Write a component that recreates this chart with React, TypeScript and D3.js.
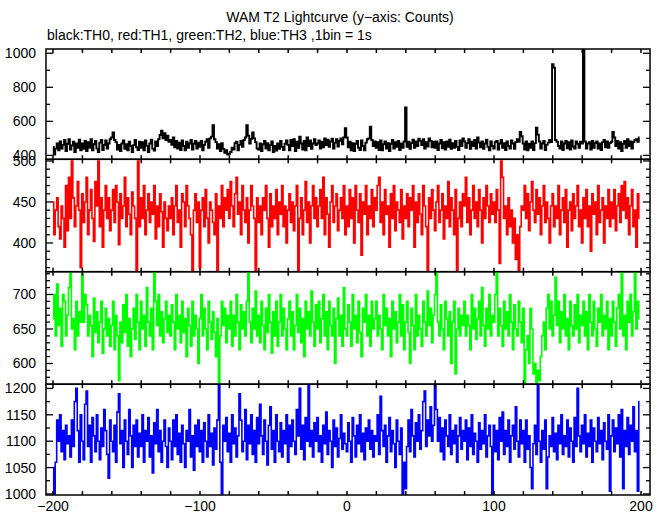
import React from "react";
import * as d3 from "d3";

const W = 669;
const H = 515;
const T_START = -200;

const th0: number[] = [
  450,405,440,470,430,482,440,462,490,425,468,495,435,458,480,420,470,445,492,430,
  470,438,485,425,478,445,495,430,465,485,440,420,475,490,432,462,488,440,470,495,
  505,535,490,478,435,462,425,470,488,438,465,430,480,455,420,460,490,448,432,480,
  445,478,430,488,455,420,470,492,440,428,482,455,495,520,545,500,530,490,515,480,
  490,462,505,448,485,440,475,432,488,455,430,480,445,470,490,435,468,485,440,475,
  450,485,430,462,480,495,445,500,510,578,495,478,440,465,425,472,438,415,430,405,
  410,420,445,435,472,480,430,462,485,450,490,505,578,515,470,498,535,500,478,440,
  435,470,425,465,485,440,472,430,460,482,420,455,428,470,438,485,450,432,468,488,
  462,430,490,455,495,425,480,445,510,470,435,485,430,505,455,488,438,470,495,460,
  470,488,440,480,448,500,460,492,450,482,498,440,475,495,452,485,500,465,505,560,
  505,448,480,430,472,425,468,485,445,432,488,455,430,475,495,500,568,490,455,482,
  445,478,432,488,430,465,482,440,472,425,468,490,440,478,450,485,432,470,445,482,
  682,450,480,438,472,492,445,482,455,498,485,460,495,440,478,452,500,485,448,480,
  445,482,432,470,490,442,478,435,482,450,492,438,472,445,485,450,432,488,455,500,
  482,445,472,495,438,480,455,490,440,505,475,448,482,438,470,492,450,430,482,455,
  440,478,485,435,470,490,445,472,432,482,455,440,488,470,438,478,495,480,538,512,
  470,435,482,430,468,445,482,432,472,562,522,482,440,470,485,432,462,475,490,478,
  935,915,490,480,455,440,482,432,470,485,442,478,435,488,452,440,482,468,445,480,
  470,1200,482,440,470,478,435,485,445,472,482,440,470,432,478,490,448,482,445,472,
  480,538,505,455,485,440,478,425,468,485,445,495,455,482,440,478,490,495,480,505,
];

const th1: number[] = [
  450,410,440,455,420,405,445,430,395,470,415,480,430,500,455,420,445,475,440,370,
  460,425,450,480,410,440,465,430,402,475,445,500,420,455,395,440,470,430,455,415,
  440,465,425,470,450,398,460,430,445,480,420,455,435,410,462,445,430,365,500,420,
  455,430,470,410,440,460,425,450,435,470,405,445,420,460,438,395,450,430,415,445,
  430,455,410,445,470,425,440,395,460,450,420,470,445,430,410,365,440,460,425,450,
  370,440,455,420,465,430,400,450,440,425,410,460,365,445,430,470,420,455,440,465,
  430,475,445,420,460,480,435,450,410,470,440,425,455,400,440,470,445,430,365,455,
  425,445,410,455,440,470,430,395,460,420,445,430,465,410,450,435,470,420,445,400,
  440,460,425,450,415,445,470,365,430,455,410,440,475,425,450,400,445,470,430,455,
  420,445,465,430,480,410,455,435,395,450,470,425,445,460,415,440,455,430,470,410,
  445,420,465,430,455,400,470,440,425,460,385,450,435,470,410,445,430,465,420,455,
  440,470,480,425,450,410,465,435,445,395,460,430,470,415,450,440,425,465,405,445,
  430,460,420,455,440,470,395,450,425,460,435,410,470,445,420,365,455,430,465,440,
  415,450,470,425,440,460,405,445,430,475,420,455,440,410,465,365,430,450,420,460,
  445,480,425,455,410,440,470,430,450,420,465,440,400,455,430,470,445,425,460,435,
  450,425,465,440,375,500,480,430,445,410,455,420,440,400,430,380,410,362,420,445,
  440,470,430,460,415,450,475,440,425,465,435,455,410,445,470,425,450,430,400,445,
  460,420,445,430,470,410,440,455,425,465,395,440,450,415,460,430,445,470,420,440,
  400,455,430,465,420,445,390,460,435,450,410,470,425,440,455,400,445,430,465,420,
  450,430,465,415,445,460,425,470,440,475,430,455,410,445,465,420,440,395,460,430,
];

const th2: number[] = [
  665,700,640,715,655,680,625,700,690,640,670,710,730,650,665,620,690,640,675,660,
  730,660,700,685,640,670,655,610,695,645,675,630,660,690,615,650,680,640,665,625,
  655,690,620,670,640,575,660,630,685,645,700,625,665,610,650,680,635,700,660,620,
  690,650,670,625,710,660,640,680,620,733,690,655,700,640,675,630,665,690,645,670,
  640,685,660,620,700,650,670,630,690,645,665,610,680,655,625,690,640,670,650,600,
  665,700,640,680,650,620,690,660,635,675,645,610,665,570,640,690,655,680,630,670,
  650,690,625,670,640,700,660,620,685,650,675,640,690,733,660,630,680,650,705,640,
  670,630,690,655,620,680,645,700,660,615,675,640,690,625,660,700,640,680,650,620,
  665,690,640,675,620,655,700,645,680,630,665,610,690,650,675,640,705,660,625,685,
  650,690,630,665,700,640,675,620,690,655,640,680,600,665,695,640,670,625,710,650,
  640,685,660,625,700,650,670,630,690,645,610,680,660,700,640,670,625,690,650,665,
  690,640,670,650,620,700,655,680,640,665,610,690,650,675,630,660,700,640,685,620,
  660,690,645,600,680,655,620,700,640,670,650,625,690,660,640,705,655,680,630,670,
  700,733,660,640,685,650,620,690,665,640,675,600,660,690,585,650,680,640,670,655,
  690,640,670,655,620,700,650,680,635,665,690,640,710,655,625,680,650,700,640,670,
  660,700,733,640,680,655,625,690,650,675,640,700,660,620,685,650,640,690,660,630,
  680,570,620,640,600,680,650,585,600,570,590,575,610,640,660,620,680,700,650,690,
  640,670,725,655,690,630,675,650,700,640,665,620,690,655,640,685,650,700,630,670,
  655,690,640,675,620,700,660,640,690,650,625,680,660,700,640,670,650,690,620,665,
  640,690,660,625,680,700,650,733,640,670,620,690,660,700,640,675,733,650,690,665,
];

const th3: number[] = [
  1050,1000,1060,1140,1100,1150,1080,1120,1065,1130,1095,1110,1070,1140,1090,1175,1200,1120,1060,1150,
  1100,1065,1170,1195,1090,1130,1060,1145,1110,1080,1150,1100,1065,1125,1090,1160,1120,1075,1030,1140,
  1100,1080,1130,1060,1155,1190,1095,1120,1050,1140,1100,1075,1160,1110,1050,1130,1090,1140,1070,1115,
  1090,1150,1060,1120,1100,1145,1070,1110,1040,1135,1095,1160,1080,1120,1060,1100,1140,1090,1050,1125,
  1100,1065,1140,1090,1150,1075,1115,1060,1130,1095,1050,1120,1100,1160,1070,1110,1045,1130,1090,1140,
  1080,1120,1060,1135,1100,1070,1150,1090,1115,1055,1125,1085,1140,1207,1060,1000,1130,1100,1145,1080,
  1115,1060,1150,1095,1125,1070,1110,1190,1140,1080,1100,1160,1065,1130,1095,1150,1075,1120,1060,1145,
  1095,1170,1110,1075,1140,1100,1055,1130,1165,1085,1120,1060,1150,1100,1080,1135,1070,1120,1095,1150,
  1060,1130,1090,1140,1100,1075,1160,1110,1200,1085,1130,1065,1145,1100,1207,1090,1120,1070,1135,1100,
  1145,1080,1110,1060,1130,1095,1155,1075,1120,1100,1050,1140,1090,1125,1070,1105,1150,1085,1115,1095,
  1080,1135,1100,1060,1145,1110,1070,1130,1095,1150,1080,1115,1065,1125,1100,1140,1085,1120,1070,1110,
  1100,1150,1075,1185,1120,1090,1130,1060,1110,1145,1080,1120,1095,1050,1140,1100,1075,1125,1000,1060,
  1010,1090,1140,1080,1160,1110,1070,1135,1100,1150,1085,1120,1175,1195,1090,1140,1110,1165,1100,1130,
  1207,1160,1100,1145,1080,1125,1065,1140,1110,1090,1150,1075,1120,1095,1130,1060,1110,1145,1085,1120,
  1100,1140,1065,1125,1090,1150,1075,1115,1100,1060,1135,1085,1120,1095,1150,1070,1110,1130,1090,998,
  1130,1080,1120,1065,1145,1100,1155,1075,1120,1090,1140,1060,1110,1130,1085,1165,1100,1070,1140,1095,
  1120,1060,1140,1085,1110,1050,1010,1095,1130,1075,1207,1100,1060,1120,1085,1140,1010,1070,1110,1090,
  1145,1080,1115,1065,1130,1095,1150,1075,1110,1090,1140,1070,1125,1100,1060,1145,1090,1200,1110,1080,
  1130,1095,1150,1070,1115,1090,1140,1060,1125,1100,1080,1145,1095,1120,1065,1135,1100,1085,1150,1005,
  1110,1140,1080,1125,1095,1150,1070,1160,1010,1120,1090,1145,1075,1130,1100,1165,1080,1120,1005,1175,
];

const xTickLabels = [-200, -100, 0, 100, 200];
const th0Ticks = [1000, 800, 600, 400];
const th1Ticks = [500, 450, 400];
const th2Ticks = [700, 650, 600];
const th3Ticks = [1200, 1150, 1100, 1050, 1000];

const TITLE = "WAM T2 Lightcurve (y\u2212axis: Counts)";
const SUBTITLE = "black:TH0, red:TH1, green:TH2, blue:TH3 ,1bin = 1s";

const FONT = "'Liberation Sans', Arial, Helvetica, sans-serif";

type Panel = {
  values: number[];
  color: string;
  width: number;
  top: number;
  bottom: number;
  domain: [number, number];
  ticks: number[];
  minorStep: number;
};

const panels: Panel[] = [
  { values: th0, color: "#000000", width: 1.9, top: 49, bottom: 159.3, domain: [377, 1025], ticks: th0Ticks, minorStep: 100 },
  { values: th1, color: "#ff0000", width: 1.6, top: 159.3, bottom: 271.7, domain: [365, 502], ticks: th1Ticks, minorStep: 10 },
  { values: th2, color: "#00ff00", width: 1.6, top: 271.7, bottom: 384.2, domain: [570, 733], ticks: th2Ticks, minorStep: 10 },
  { values: th3, color: "#0000ff", width: 1.6, top: 384.2, bottom: 495, domain: [998, 1208], ticks: th3Ticks, minorStep: 25 },
];

const LEFT = 46;
const RIGHT = 650;

export default function App() {
  const x = d3.scaleLinear().domain([-200, 200]).range([53, 641]);
  const xTicks = d3.range(-200, 201, 20);
  const fmt = (v: number) => (v < 0 ? "\u2212" + Math.abs(v) : String(v));

  return (
    <svg
      width={W}
      height={H}
      viewBox={`0 0 ${W} ${H}`}
      style={{ position: "absolute", left: 0, top: 0, background: "#fff" }}
    >
      <rect x={0} y={0} width={W} height={H} fill="#fff" />
      <text x={340} y={22} textAnchor="middle" fontFamily={FONT} fontSize={14} fill="#000">
        {TITLE}
      </text>
      <text x={47} y={40} fontFamily={FONT} fontSize={14} fill="#000">
        {SUBTITLE}
      </text>
      <defs>
        {panels.map((p, i) => (
          <clipPath id={`clip${i}`} key={i}>
            <rect x={LEFT} y={p.top} width={RIGHT - LEFT} height={p.bottom - p.top} />
          </clipPath>
        ))}
      </defs>
      {panels.map((p, i) => {
        const y = d3.scaleLinear().domain(p.domain).range([p.bottom, p.top]);
        const line = d3
          .line<number>()
          .x((_, k) => x(T_START + k))
          .y((v) => y(v))
          .curve(d3.curveStep);
        const minor = d3
          .range(Math.ceil(p.domain[0] / p.minorStep) * p.minorStep, p.domain[1] + 0.001, p.minorStep)
          .filter((v) => y(v) > p.top + 1 && y(v) < p.bottom - 1);
        return (
          <g key={i}>
            <path
              d={line(p.values) || ""}
              fill="none"
              stroke={p.color}
              strokeWidth={p.width}
              clipPath={`url(#clip${i})`}
            />
            {minor.map((v) => {
              const major = p.ticks.includes(v);
              const len = major ? 7 : 4;
              return (
                <g key={v}>
                  <line x1={LEFT} x2={LEFT + len} y1={y(v)} y2={y(v)} stroke="#000" strokeWidth={1.3} />
                  <line x1={RIGHT} x2={RIGHT - len} y1={y(v)} y2={y(v)} stroke="#000" strokeWidth={1.3} />
                </g>
              );
            })}
            {p.ticks.map((v) => (
              <text
                key={`l${v}`}
                x={36}
                y={y(v) + 5}
                textAnchor="end"
                fontFamily={FONT}
                fontSize={14}
                fill="#000"
              >
                {v}
              </text>
            ))}
            {xTicks.map((t) => (
              <g key={`x${t}`}>
                <line x1={x(t)} x2={x(t)} y1={p.top} y2={p.top + 4} stroke="#000" strokeWidth={1.5} />
                <line x1={x(t)} x2={x(t)} y1={p.bottom} y2={p.bottom - 4} stroke="#000" strokeWidth={1.5} />
              </g>
            ))}
            <rect
              x={LEFT}
              y={p.top}
              width={RIGHT - LEFT}
              height={p.bottom - p.top}
              fill="none"
              stroke="#000"
              strokeWidth={1.5}
            />
          </g>
        );
      })}
      {xTickLabels.map((t) => (
        <text
          key={`xl${t}`}
          x={x(t)}
          y={511}
          textAnchor="middle"
          fontFamily={FONT}
          fontSize={14}
          fill="#000"
        >
          {fmt(t)}
        </text>
      ))}
    </svg>
  );
}
